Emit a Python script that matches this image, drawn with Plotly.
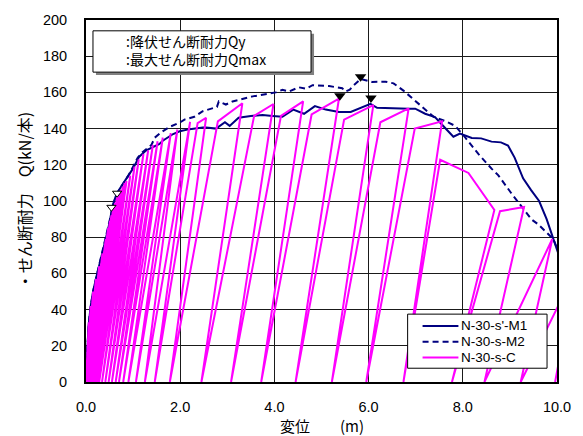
import plotly.graph_objects as go

# ---------------- data ----------------
m1_x = [0, 0.02, 0.05, 0.1, 0.15, 0.22, 0.3, 0.4, 0.5, 0.56, 0.65, 0.72, 0.86, 1.0, 1.1, 1.13,
        1.28, 1.56, 1.63, 1.85, 1.99, 2.20, 2.48, 2.55, 2.76, 2.95, 3.05, 3.24, 3.5, 3.75, 3.96,
        4.17, 4.40, 4.63, 4.86, 5.09, 5.37, 5.62, 6.04, 6.18, 6.85, 6.99, 7.20, 7.41, 7.60, 7.80,
        7.94, 8.19, 8.39, 8.61, 8.81, 8.96, 9.10, 9.28, 9.45, 9.62, 9.78, 9.92, 10.04]
m1_q = [0, 15, 30, 42, 50, 58, 66, 77, 88, 97, 104, 107, 112.5, 118, 122.5, 124.5,
        128, 131.5, 133.3, 137, 138.5, 139.7, 140.6, 140.6, 140, 143.5, 141.5, 146, 147, 147.5, 147,
        146.5, 150.5, 148.2, 152.4, 150.5, 149.2, 149.2, 153.7, 151.5, 151, 151, 148.2, 146.4, 141, 135.5,
        137.3, 134.8, 134.6, 132.8, 132.4, 130.6, 124, 112.5, 106, 100, 90, 79, 70]

m2_x = [0, 0.03, 0.08, 0.15, 0.22, 0.3, 0.4, 0.5, 0.6, 0.7, 0.8, 0.9, 1.0, 1.1, 1.2, 1.3, 1.39,
        1.46, 1.6, 1.78, 1.99, 2.09, 2.30, 2.48, 2.69, 2.78, 2.82, 2.97, 3.11, 3.26, 3.54, 4.03,
        4.17, 4.31, 4.52, 4.67, 4.81, 5.16, 5.44, 5.51, 5.60, 5.69, 5.83, 6.0, 6.07, 6.36, 6.53,
        6.74, 7.13, 7.38, 7.62, 7.84, 8.05, 8.33, 8.61, 8.75, 9.03, 9.18, 9.46, 9.6, 9.92, 10.02]
m2_q = [0, 20, 38, 50, 58, 67, 78, 89, 100, 106, 110, 114, 119, 124, 127, 129, 131,
        135, 138, 141, 143.3, 145, 146.5, 149.6, 151.4, 152, 155, 153.3, 155, 156, 157.8, 160,
        161.4, 160.5, 162.8, 162, 164, 163.5, 162.3, 160.5, 161.5, 164.1, 167.4, 166.3, 165.8, 165.9, 165,
        161, 152.3, 146.5, 144.2, 141.5, 135.1, 126, 117.9, 114.3, 104.3, 99, 89.8, 87.1, 79, 72.8]

c_x = [0, 0.03, 0.003, 0.06, 0.006, 0.10, 0.01, 0.15, 0.013, 0.21, 0.016, 0.28, 0.02, 0.35,
       0.025, 0.42, 0.03, 0.47, 0.035, 0.51, 0.04, 0.54, 0.06, 0.58, 0.08, 0.62, 0.10, 0.66, 0.13,
       0.70, 0.16, 0.74, 0.19, 0.78, 0.22, 0.82, 0.25, 0.86, 0.28, 0.94, 0.34, 1.03, 0.41, 1.12,
       0.48, 1.22, 0.55, 1.32, 0.63, 1.42, 0.70, 1.52, 0.79, 1.63, 0.90, 1.80, 1.06, 1.94, 1.25,
       2.21, 1.46, 2.37, 2.55, 1.78, 2.80, 3.32, 2.45, 3.57, 3.98, 3.08, 4.14, 4.61, 3.72, 4.79,
       5.37, 4.45, 5.48, 6.10, 5.22, 6.25, 6.85, 5.95, 6.98, 7.56, 6.74, 7.52, 8.12, 8.67, 7.77,
       8.79, 9.30, 8.46, 9.90, 9.23, 10.40, 9.96]
c_q = [0, 22, 0, 33, 0, 42, 0, 50, 0, 57, 0, 64, 0, 71,
       0, 79, 0, 85, 0, 89, 0, 92, 0, 96, 0, 99, 0, 102, 0,
       104, 0, 106, 0, 108, 0, 110, 0, 111, 0, 114, 0, 119, 0, 123,
       0, 126, 0, 128, 0, 131, 0, 133, 0, 135, 0, 137.5, 0, 139.5, 0,
       143.7, 0, 143, 146, 0, 144, 154, 0, 147, 153.6, 0, 147, 155, 0, 147.8,
       156.5, 0, 145, 153, 0, 143.5, 151.2, 0, 140, 144, 0, 122.8, 115.5, 95, 0,
       94.4, 96.7, 0, 79, 0, 62, 0]

qy_x = [0.54, 0.66]
qy_q = [96.5, 104.3]
qmax_x = [5.39, 5.83, 6.05]
qmax_q = [158.2, 168.6, 156.9]

x_ticks = [0, 2, 4, 6, 8, 10]
y_ticks = list(range(0, 201, 20))
series_names = ["N-30-s'-M1", "N-30-s-M2", "N-30-s-C"]
marker_labels = [":降伏せん断耐力Qy", ":最大せん断耐力Qmax"]

NAVY = "#000080"
MAG = "#FF00FF"
FONT = "Liberation Sans, Arial, Noto Sans CJK JP, sans-serif"
JFONT = "Noto Sans CJK JP, Liberation Sans, sans-serif"

fig = go.Figure()
fig.add_trace(go.Scatter(x=m1_x, y=m1_q, mode="lines", name=series_names[0],
                         line=dict(color=NAVY, width=2), showlegend=False))
fig.add_trace(go.Scatter(x=m2_x, y=m2_q, mode="lines", name=series_names[1],
                         line=dict(color=NAVY, width=2, dash="6px,4px"), showlegend=False))
fig.add_trace(go.Scatter(x=c_x, y=c_q, mode="lines", name=series_names[2],
                         line=dict(color=MAG, width=2), showlegend=False))
fig.add_trace(go.Scatter(x=qy_x, y=qy_q, mode="markers", showlegend=False,
                         marker=dict(symbol="triangle-down", size=8, color="white",
                                     line=dict(color="black", width=1))))
fig.add_trace(go.Scatter(x=qmax_x, y=qmax_q, mode="markers", showlegend=False,
                         marker=dict(symbol="triangle-down", size=10, color="black",
                                     line=dict(color="black", width=0))))

L, R, T, B = 86, 24, 14, 54
W, H = 583, 436
PW, PH = W - L - R, H - T - B

def px(xp):
    return (xp - L) / PW

def py(yp):
    return (H - B - yp) / PH

shapes = []
annotations = []
# upper-left marker legend box with shadow
shapes.append(dict(type="rect", xref="paper", yref="paper", x0=px(96), x1=px(315), y0=py(70), y1=py(28),
                   fillcolor="#808080", line=dict(width=0), layer="above"))
shapes.append(dict(type="rect", xref="paper", yref="paper", x0=px(93), x1=px(312), y0=py(67), y1=py(25),
                   fillcolor="white", line=dict(color="black", width=1), layer="above"))
annotations.append(dict(xref="paper", yref="paper", x=px(124), y=py(45), text="<br>".join(marker_labels),
                        showarrow=False, xanchor="left", yanchor="middle", align="left",
                        font=dict(family=JFONT, size=14, color="black")))

# bottom-right series legend
shapes.append(dict(type="rect", xref="paper", yref="paper", x0=px(409), x1=px(549), y0=py(368), y1=py(313),
                   fillcolor="white", line=dict(color="black", width=1), layer="above"))
styles = [dict(color=NAVY, width=2), dict(color=NAVY, width=2, dash="6px,4px"), dict(color=MAG, width=2)]
for i, (nm, st) in enumerate(zip(series_names, styles)):
    yy = 325 + 16 * i
    shapes.append(dict(type="line", xref="paper", yref="paper", x0=px(424), x1=px(460), y0=py(yy), y1=py(yy),
                       line=st, layer="above"))
    annotations.append(dict(xref="paper", yref="paper", x=px(462), y=py(yy), text=nm, showarrow=False,
                            xanchor="left", yanchor="middle", borderpad=0,
                            font=dict(family=FONT, size=13.5, color="black")))

# axis titles
annotations.append(dict(xref="paper", yref="paper", x=px(322.5), y=py(426), text="変位　　(m)",
                        showarrow=False, xanchor="center", yanchor="middle",
                        font=dict(family=JFONT, size=15, color="black")))
annotations.append(dict(xref="paper", yref="paper", x=px(24), y=py(198), text="・せん断耐力　Q(kN/本)",
                        showarrow=False, xanchor="center", yanchor="middle", textangle=-90,
                        font=dict(family=JFONT, size=16, color="black")))

fig.update_layout(
    width=W, height=H, margin=dict(l=L, r=R, t=T, b=B),
    plot_bgcolor="white", paper_bgcolor="white",
    shapes=shapes, annotations=annotations, showlegend=False,
    font=dict(family=FONT, size=14.5, color="black"),
)
fig.update_xaxes(range=[0, 10], tickvals=x_ticks, tickformat=".1f", showgrid=True,
                 gridcolor="#1a1a1a", gridwidth=1, zeroline=False, showline=True, mirror=True,
                 linecolor="black", linewidth=2, ticks="", ticklabelstandoff=11,
                 tickfont=dict(family=FONT, size=14.5, color="black"))
fig.update_yaxes(range=[0, 200], tickvals=y_ticks, showgrid=True,
                 gridcolor="#1a1a1a", gridwidth=1, zeroline=False, showline=True, mirror=True,
                 linecolor="black", linewidth=2, ticks="", ticklabelstandoff=14,
                 tickfont=dict(family=FONT, size=14.5, color="black"))

fig.write_html("out.html")
